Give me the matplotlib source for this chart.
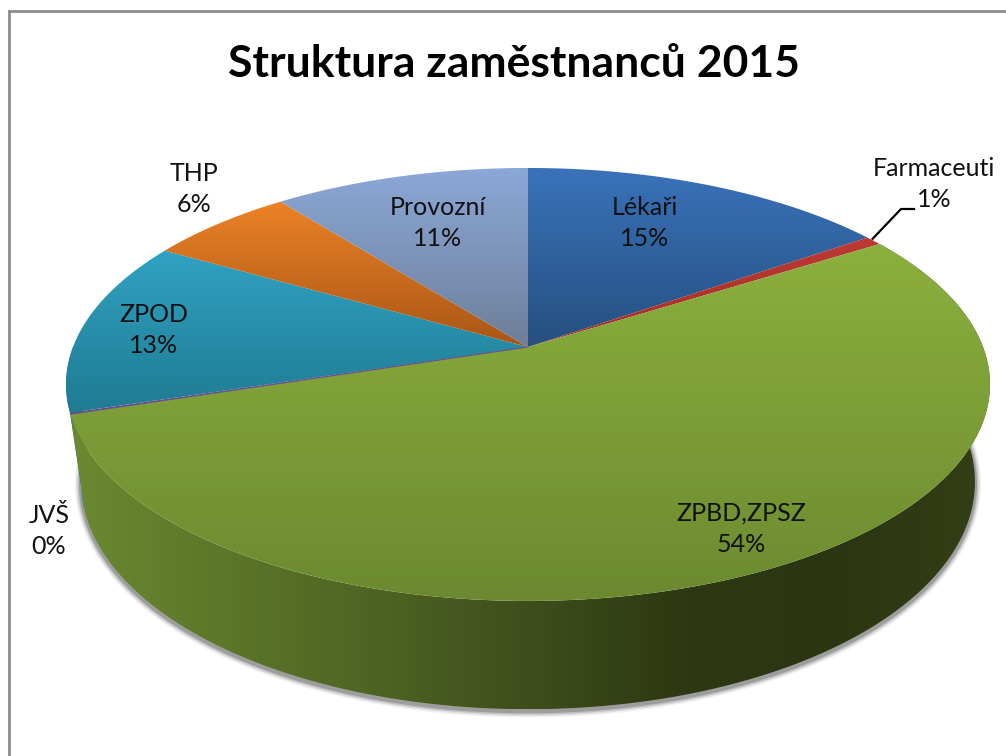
import numpy as np
import matplotlib.pyplot as plt
from matplotlib.colors import LinearSegmentedColormap
from matplotlib.patches import Polygon

plt.rcParams['font.family'] = ['Lato', 'DejaVu Sans']

title = "Struktura zaměstnanců 2015"
categories = ["Lékaři", "Farmaceuti", "ZPBD,ZPSZ", "JVŠ", "ZPOD", "THP", "Provozní"]
values = [15.3, 0.7, 54.1, 0.1, 13.1, 6.1, 10.6]
top_colors = ["#3a72ba", "#bd3a34", "#8cb03e", "#6a4a90", "#30a2c2", "#ec8226", "#8ca8d8"]
low_colors = ["#25507f", "#a52c28", "#6b8a30", "#6a4a90", "#1f7b92", "#a85616", "#6c7f98"]

# positions of the labels, in pixels
label_pos = {
    "Lékaři": (645, 223),
    "Farmaceuti": (934, 184),
    "ZPBD,ZPSZ": (741, 529),
    "JVŠ": (49, 531),
    "ZPOD": (154, 330),
    "THP": (194, 189),
    "Provozní": (438, 223),
}

# perspective disc, fitted on the picture
CX, CY = 528, 347
A, B, K = 455, 210, 0.173
DEPTH_SX, DEPTH_CY, DEPTH_SY, RIM_CY = 0.9675, 482, 1.05, 384.5


def rim(theta):
    u, v = np.sin(theta), np.cos(theta)
    w = 1 + K * v
    return CX + A * u / w, CY - B * v / w


def lower(theta):
    x, y = rim(theta)
    return CX + DEPTH_SX * (x - CX), DEPTH_CY + (y - RIM_CY) * DEPTH_SY


def gradient_fill(ax, pts, colors, horizontal=False, zorder=2):
    cmap = LinearSegmentedColormap.from_list("g", colors)
    pts = np.asarray(pts)
    x0, x1 = pts[:, 0].min(), pts[:, 0].max()
    y0, y1 = pts[:, 1].min(), pts[:, 1].max()
    grad = np.linspace(0, 1, 256)
    grad = grad.reshape(1, -1) if horizontal else grad.reshape(-1, 1)
    im = ax.imshow(grad, cmap=cmap, extent=(x0, x1, y1, y0), aspect="auto",
                   origin="upper", zorder=zorder, interpolation="bilinear")
    patch = Polygon(pts, closed=True, fc="none", ec="none", transform=ax.transData)
    ax.add_patch(patch)
    im.set_clip_path(patch)


fig = plt.figure(figsize=(10.06, 7.56), dpi=100)
ax = fig.add_axes([0, 0, 1, 1])
fig.patch.set_facecolor("white")

frac = np.array(values) / sum(values)
edges = np.concatenate([[0], np.cumsum(frac)]) * 2 * np.pi

# soft shadow under the wall
th = np.linspace(np.radians(80), np.radians(275), 300)
sx, sy = lower(th)
for lw, alpha in zip([9, 7, 5, 3], [0.06, 0.10, 0.16, 0.25]):
    ax.plot(sx, sy + 2, color="#303030", lw=lw, alpha=alpha, zorder=1, solid_capstyle="round")

# side wall: the green slice and a sliver of the blue one are visible
i_green = categories.index("ZPBD,ZPSZ")
i_zpod = categories.index("ZPOD")

th = np.linspace(edges[i_zpod], np.radians(270), 40)
tx, ty = rim(th)
bx, by = lower(th)
wall = np.vstack([np.column_stack([tx, ty]), np.column_stack([bx, by])[::-1]])
gradient_fill(ax, wall, ["#2a7d98", "#1f6b84"], zorder=2)

th = np.linspace(edges[i_green], edges[i_green + 1], 300)
tx, ty = rim(th)
bx, by = lower(th)
wall = np.vstack([np.column_stack([tx, ty]), np.column_stack([bx, by])[::-1]])
gradient_fill(ax, wall,
              ["#6c8830", "#5c762a", "#4e6323", "#3e4e1b", "#2e3813", "#2c3512", "#333f16"],
              horizontal=True, zorder=3)

# top of the disc
for i, cat in enumerate(categories):
    th = np.linspace(edges[i], edges[i + 1], max(3, int(frac[i] * 720)))
    tx, ty = rim(th)
    pts = np.vstack([[CX, CY], np.column_stack([tx, ty])])
    gradient_fill(ax, pts, [top_colors[i], low_colors[i]], zorder=4)
    if frac[i] < 0.002:
        ax.plot(pts[[0, 1], 0], pts[[0, 1], 1], color=top_colors[i], lw=0.8, zorder=5)

# labels
for cat, val in zip(categories, frac * 100):
    x, y = label_pos[cat]
    ax.text(x, y, f"{cat}\n{val:.0f}%", ha="center", va="center", fontsize=18,
            color="#111111", linespacing=1.45, zorder=7)

# leader line of the small slice
mid = (edges[1] + edges[2]) / 2
mx, my = rim(mid)
ax.plot([mx - 1, 901, 914], [my - 2, 209, 209], color="black", lw=1.6, zorder=6)

ax.text(514, 64, title, ha="center", va="center", fontsize=32, fontweight="bold", color="black")

# outer frame
ax.plot([9, 9], [756, 11], color="#8c8c8c", lw=2, zorder=8)
ax.plot([9, 1006], [11, 11], color="#8c8c8c", lw=2, zorder=8)

ax.set_xlim(0, 1006)
ax.set_ylim(756, 0)
ax.axis("off")
fig.savefig("out.png", dpi=100)
